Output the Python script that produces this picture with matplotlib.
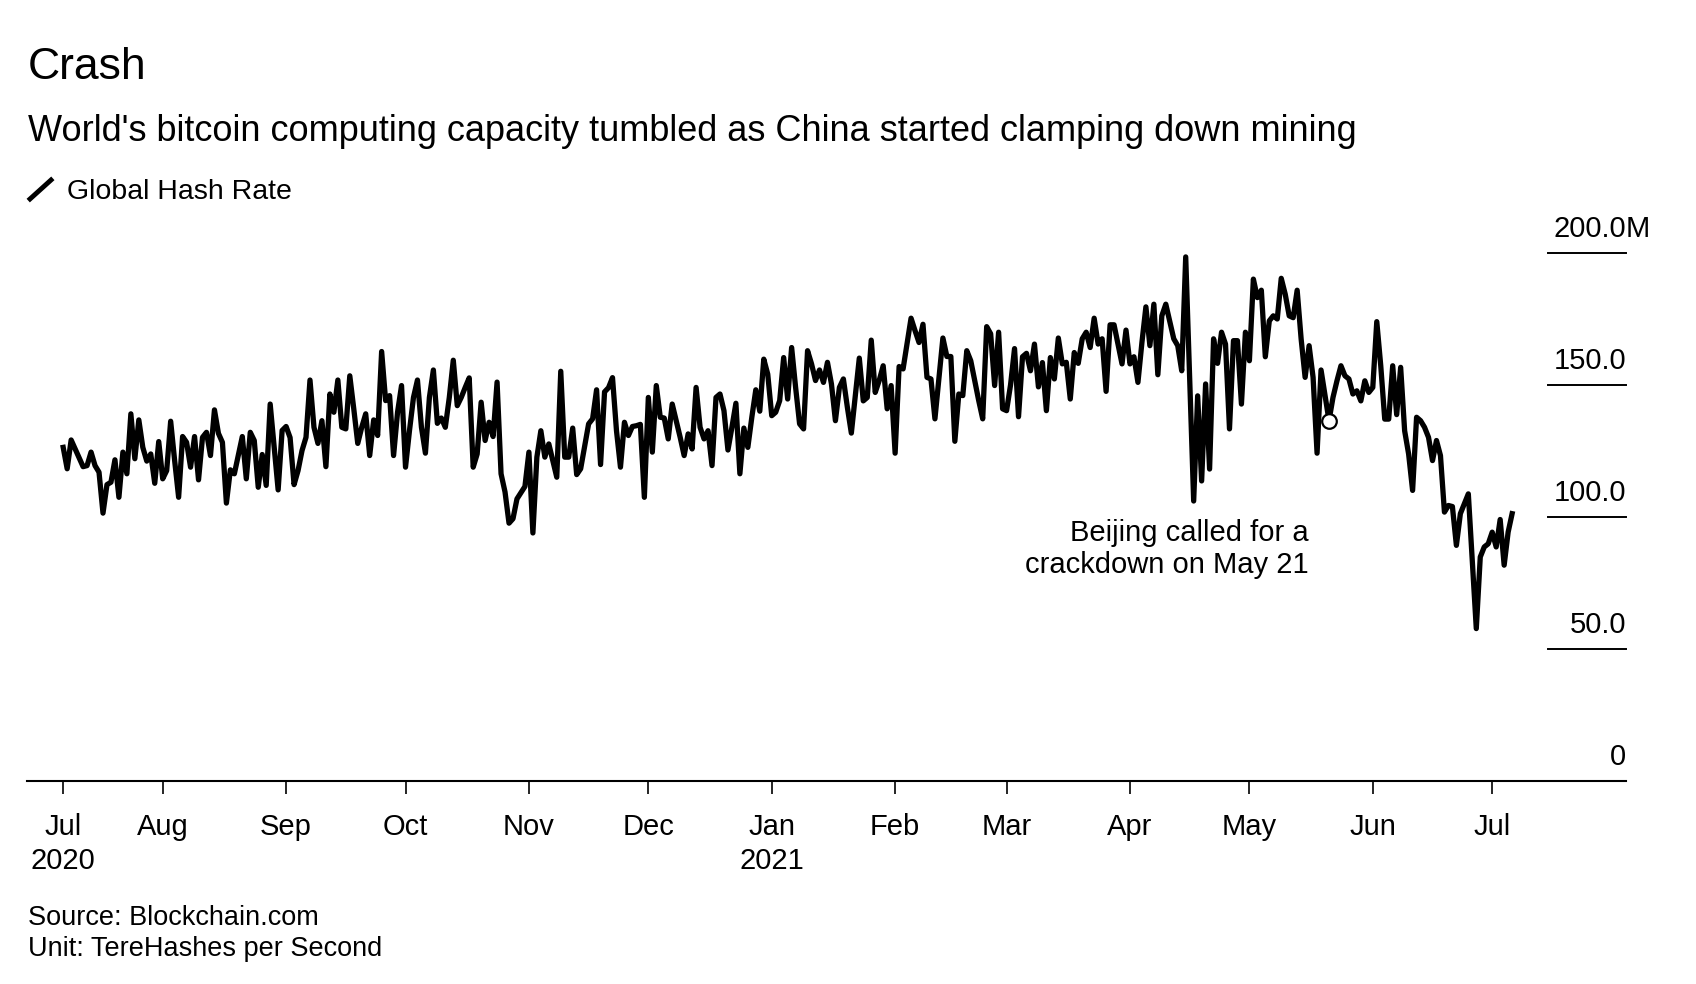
import matplotlib
matplotlib.use("Agg")
import matplotlib.pyplot as plt
from matplotlib.lines import Line2D
import pandas as pd

plt.rcParams["font.family"] = ["Liberation Sans", "DejaVu Sans"]

# Daily global hash rate (TH/s, millions), from 2020-07-07.
# None = day not read (line just joins the neighbours)
START = "2020-07-07"
hash_rate = [
    126.3, 118.2, 129.1, 125.7, None, 119.0, 119.4, 124.5, 119.4, 116.9,
    101.4, 112.2, 113.1, 121.6, 107.4, 124.5, 116.3, 139.0, 122.0, 136.7,
    126.3, 121.1, 123.8, 112.7, 128.5, 114.4, 117.5, 136.2, 121.3, 107.4,
    130.4, 128.2, 118.8, 130.4, 114.0, 130.1, 132.0, 123.2, 140.5, 131.6,
    128.2, 105.2, 117.8, 116.3, None, 130.4, 114.4, 132.0, 128.9, 111.2,
    123.6, 111.9, 142.7, None, 110.2, 132.7, 134.2, 130.0, 112.2, 117.5,
    125.1, 130.1, 151.8, 133.9, 127.8, 136.4, 119.0, 146.5, 139.6, 151.8,
    133.9, 133.3, 153.4, 140.9, 127.8, 133.9, 139.0, 123.2, 136.7, 130.8,
    162.6, 144.0, 145.9, 123.2, 139.6, 149.7, 118.8, 132.7, 145.2, 151.8,
    133.9, 124.1, 145.2, 155.6, 135.4, 137.4, 133.9, 145.2, 159.3, 142.1,
    145.2, 149.0, 152.6, 118.8, 123.8, 143.4, 128.9, 135.8, 130.4, 151.0,
    116.3, 109.4, 97.6, 99.3, 106.8, None, 111.5, 124.5, 93.9, 122.6,
    132.6, 122.6, 127.6, 121.3, 115.0, 155.1, 122.6, 122.6, 133.6, 116.0,
    118.2, None, 135.2, 137.1, 148.1, 119.8, 147.3, 148.9, 152.7, 132.6,
    118.8, 135.8, 130.8, 134.2, 134.5, 135.0, 107.4, 145.2, 124.5, 149.7,
    137.7, 137.4, 129.5, 142.7, 136.4, 130.1, 123.2, 131.4, 125.7, 149.0,
    133.9, 129.5, 132.6, 119.4, 145.2, 146.5, 140.2, 125.3, 133.9, 143.0,
    116.3, 133.6, 126.3, 137.7, 148.1, 140.0, 159.7, 154.0, 138.3, 139.6,
    144.0, 160.3, 144.6, 164.1, 149.0, 135.2, 133.3, 162.9, 157.9, 151.6,
    155.6, 150.9, 158.5, 150.3, 136.4, 149.0, 152.2, 141.5, 131.7, None,
    160.1, 143.9, 145.2, 166.9, 147.1, 151.6, 157.2, 140.9, 149.7, 124.1,
    156.9, 156.0, None, 175.2, 170.5, 166.0, 172.9, 152.8, 152.2, 137.1,
    None, 167.7, 160.7, 160.7, 128.6, 146.5, 145.9, 162.9, 159.1, 151.6,
    144.0, 137.1, 172.0, 169.3, 149.7, 169.9, 140.9, 140.2, 150.0, 163.7,
    137.9, 160.6, 161.9, 155.3, 165.4, 149.2, 158.4, 140.2, 160.3, 152.2,
    167.7, 157.9, 158.5, 144.6, 162.2, 158.1, 167.4, 169.9, 164.1, 175.2,
    165.4, 167.4, 147.5, 172.7, 172.7, 165.4, 157.9, 170.7, 157.9, 160.6,
    150.9, 166.0, 179.5, 164.8, 180.5, 153.8, 176.1, 180.5, None, 167.4,
    164.8, 155.3, 198.4, None, 106.0, 145.8, 113.6, 150.3, 118.1, 167.4,
    158.1, 169.9, 165.4, 133.3, 166.7, 166.7, 142.7, 169.9, 159.1, 190.0,
    183.0, 185.8, 160.6, 174.2, 176.1, 174.9, 190.3, 184.3, 176.1, 175.4,
    185.8, 167.3, 152.8, 164.8, 152.8, 124.1, 155.6, None, 136.4, 145.2,
    151.5, 157.2, 153.4, 152.2, 146.5, 147.7, 143.9, 151.5, 147.1, 149.0,
    173.9, 157.2, 137.0, 137.0, 157.2, 138.7, 156.6, 132.6, 123.8, 110.0,
    137.7, 136.4, 133.9, 130.1, 121.3, 128.9, 123.2, 101.8, 104.3, 103.9,
    89.2, 101.2, 104.9, 108.7, 83.5, 57.7, 84.8, 88.6, 89.8, 94.2,
    88.6, 99.0, 81.7, 94.2, 101.2,
]

y_ticks = [0, 50, 100, 150, 200]
y_labels = ["0", "50.0", "100.0", "150.0", "200.0"]
crackdown_day = "2021-05-21"

dates = pd.date_range(START, periods=len(hash_rate), freq="D")
series = pd.Series(hash_rate, index=dates, dtype=float).dropna()

# ticks: first data day, then the 1st of each month
tick_dates = [dates[0]] + list(pd.date_range("2020-08-01", "2021-07-01", freq="MS"))
tick_labels = []
for d in tick_dates:
    lab = d.strftime("%b")
    if d == dates[0] or d.month == 1:
        lab += "\n" + str(d.year)
    tick_labels.append(lab)

# ── figure ────────────────────────────────────────────────────────────────────
fig = plt.figure(figsize=(16.96, 9.84), dpi=100)
fig.patch.set_facecolor("white")
ax = fig.add_axes([0.0159, 0.2063, 0.9428, 0.5369])

ax.plot(series.index, series.values, color="black", lw=3.8, zorder=3)

ax.set_ylim(0, 200)
ax.set_xlim(dates[0] - pd.Timedelta(days=9.1), dates[0] + pd.Timedelta(days=392.6))

for s in ["top", "right", "left"]:
    ax.spines[s].set_visible(False)
ax.spines["bottom"].set_linewidth(1.5)

# y "ticks": short rules at the right with the value above
ax.set_yticks([])
for v, lab in zip(y_ticks, y_labels):
    if v > 0:
        ax.axhline(v, xmin=0.951, xmax=1.0, color="black", lw=1.4, clip_on=False)
    ax.annotate(lab, xy=(1.0, v), xycoords=("axes fraction", "data"),
                xytext=(0, 11.5), textcoords="offset points",
                ha="right", va="baseline", fontsize=21)
ax.annotate("M", xy=(1.0, y_ticks[-1]), xycoords=("axes fraction", "data"),
            xytext=(0, 11.5), textcoords="offset points",
            ha="left", va="baseline", fontsize=21)

ax.set_xticks(tick_dates)
ax.set_xticklabels(tick_labels)
ax.tick_params(axis="x", length=9.4, width=1.2, pad=13.5, labelsize=21)
for lbl in ax.get_xticklabels():
    lbl.set_linespacing(1.28)

# annotation for the crackdown
cv = series.loc[crackdown_day]
ax.plot([pd.Timestamp(crackdown_day)], [cv], "o", ms=10.5, mfc="white",
        mec="black", mew=1.6, zorder=5)
ax.annotate("Beijing called for a\ncrackdown on May 21",
            xy=(pd.Timestamp(crackdown_day), cv), xytext=(-14.6, -110),
            textcoords="offset points", ha="right", va="baseline", fontsize=21)

# ── titles, legend, footer ───────────────────────────────────────────────────
fig.text(0.0165, 0.9197, "Crash", fontsize=32, va="baseline")
fig.text(0.0165, 0.8571,
         "World's bitcoin computing capacity tumbled as China started clamping down mining",
         fontsize=26, va="baseline")
fig.add_artist(Line2D([0.0177, 0.0301], [0.7978, 0.8171], transform=fig.transFigure,
                      color="black", lw=3.5))
fig.text(0.0395, 0.7978, "Global Hash Rate", fontsize=20.5, va="baseline")
fig.text(0.0165, 0.0602, "Source: Blockchain.com", fontsize=19.5, va="baseline")
fig.text(0.0165, 0.0285, "Unit: TereHashes per Second", fontsize=19.5, va="baseline")

fig.savefig("out.png", dpi=100, facecolor="white")
